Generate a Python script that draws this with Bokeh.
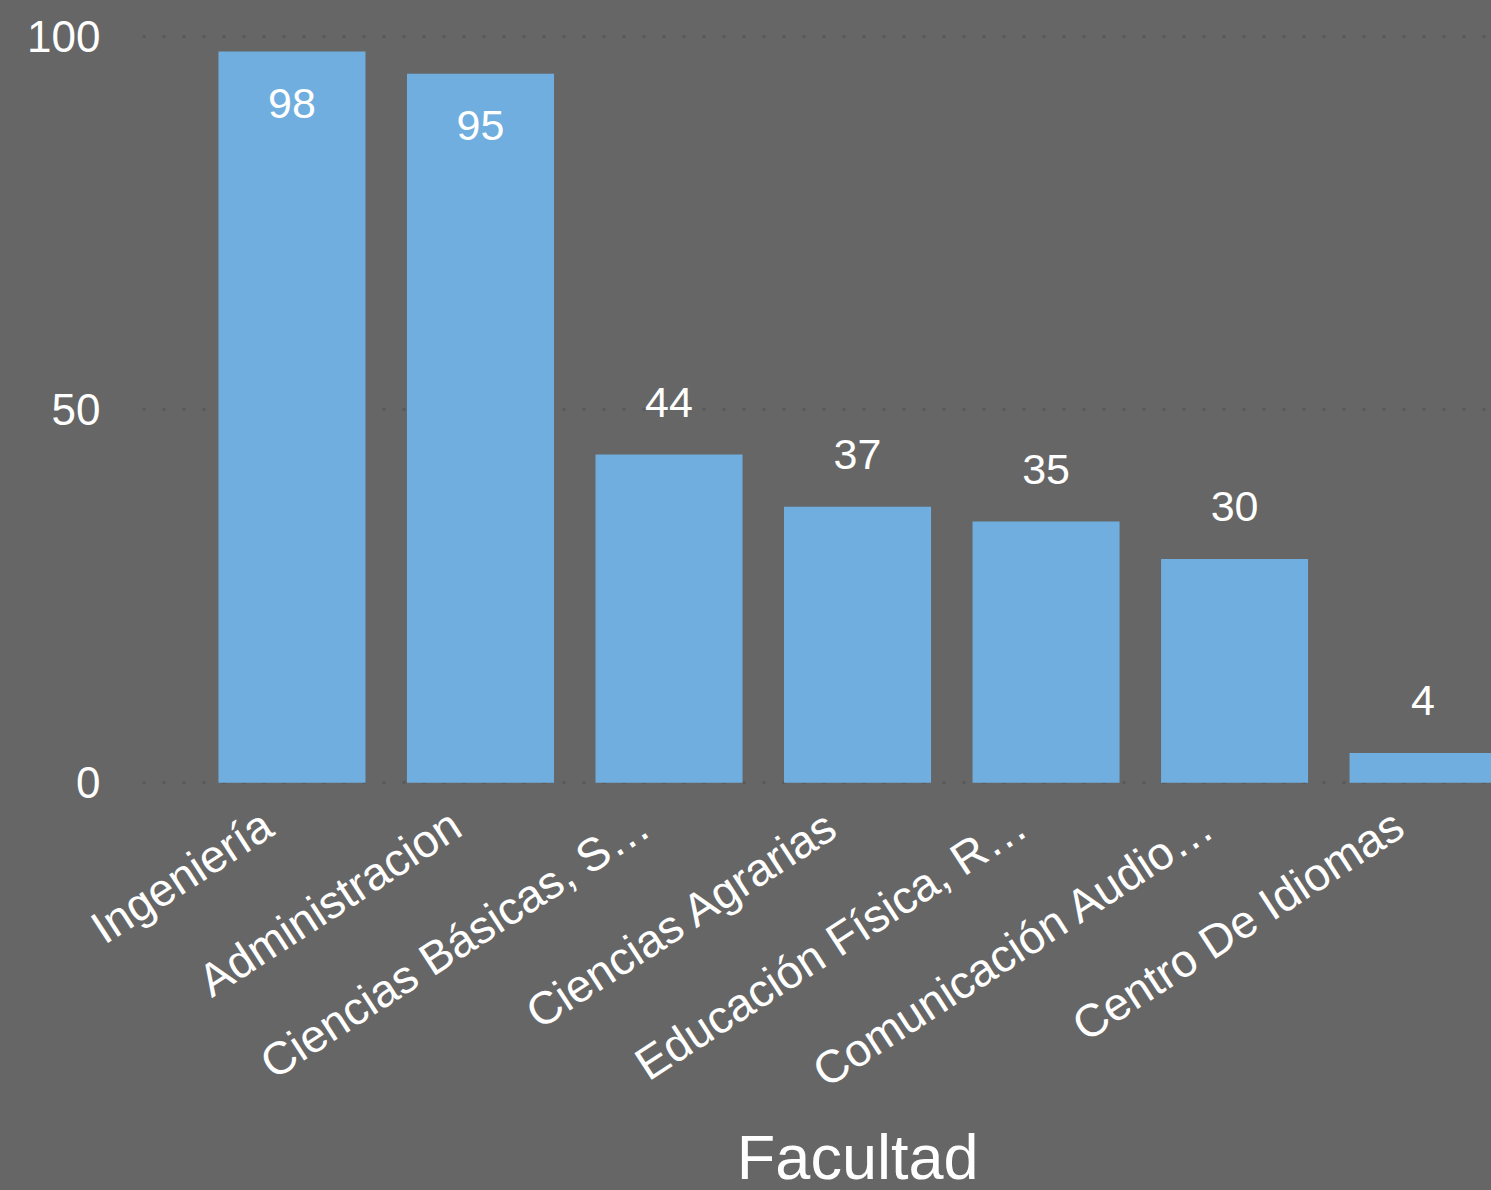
from bokeh.plotting import figure
from bokeh.models import ColumnDataSource, Range1d, FixedTicker, LabelSet, Title
from bokeh.core.properties import value
from bokeh.embed import file_html
from bokeh.resources import INLINE

categories = ["Ingeniería", "Administracion", "Ciencias Básicas, S…", "Ciencias Agrarias",
              "Educación Física, R…", "Comunicación Audio…", "Centro De Idiomas"]
values = [98, 95, 44, 37, 35, 30, 4]
y_ticks = [0, 50, 100]
x_title = "Facultad"

BG = "#666666"
BAR = "#6FAEDE"
FONT = "Liberation Sans"

xs = list(range(len(categories)))
offsets = [-52 if v > 90 else 52 for v in values]
src = ColumnDataSource(dict(x=xs, top=values, lab=[str(v) for v in values], off=offsets))

p = figure(width=1491, height=1190, output_backend="svg", toolbar_location=None,
           x_range=Range1d(-0.793, 6.363), y_range=Range1d(-0.5, 104.82),
           background_fill_color=BG, background_fill_alpha=0,
           border_fill_color=BG, border_fill_alpha=0, outline_line_color=None,
           min_border_top=0, min_border_right=0, min_border_left=142, min_border_bottom=403)
p.styles = {"background-color": BG}

p.vbar(x="x", top="top", bottom=0, width=0.78, source=src, fill_color=BAR, line_color=None)

labels = LabelSet(x="x", y="top", text="lab", y_offset="off", source=src,
                  text_align="center", text_baseline="middle", text_color="white",
                  text_font_size="43px", text_font=value(FONT))
p.add_layout(labels)

# rotated labels sit slightly left of the bar centres, as in the reference
label_shift = 0.13
tick_pos = [i - label_shift for i in xs]
p.xaxis.ticker = FixedTicker(ticks=tick_pos)
p.xaxis.major_label_overrides = {t: c for t, c in zip(tick_pos, categories)}
p.xaxis.major_label_orientation = 0.576
p.xaxis.major_label_text_font_size = "46px"
p.xaxis.major_label_text_font = FONT
p.xaxis.major_label_text_color = "white"
p.xaxis.major_label_standoff = 28
p.xaxis.axis_line_color = None
p.xaxis.major_tick_line_color = None
p.xaxis.minor_tick_line_color = None

p.yaxis.ticker = FixedTicker(ticks=y_ticks)
p.yaxis.major_label_text_font_size = "44px"
p.yaxis.major_label_text_font = FONT
p.yaxis.major_label_text_color = "white"
p.yaxis.major_label_standoff = 36
p.yaxis.axis_line_color = None
p.yaxis.major_tick_line_color = None
p.yaxis.minor_tick_line_color = None

p.xgrid.grid_line_color = None
p.ygrid.grid_line_color = "#595959"
p.ygrid.grid_line_width = 3
p.ygrid.grid_line_dash = "3 17"

title = Title(text=x_title, align="right", offset=513, text_color="white",
              text_font_size="63px", text_font=FONT, text_font_style="normal", standoff=-3)
p.add_layout(title, "below")

open("out.html", "w").write(file_html(p, INLINE))
